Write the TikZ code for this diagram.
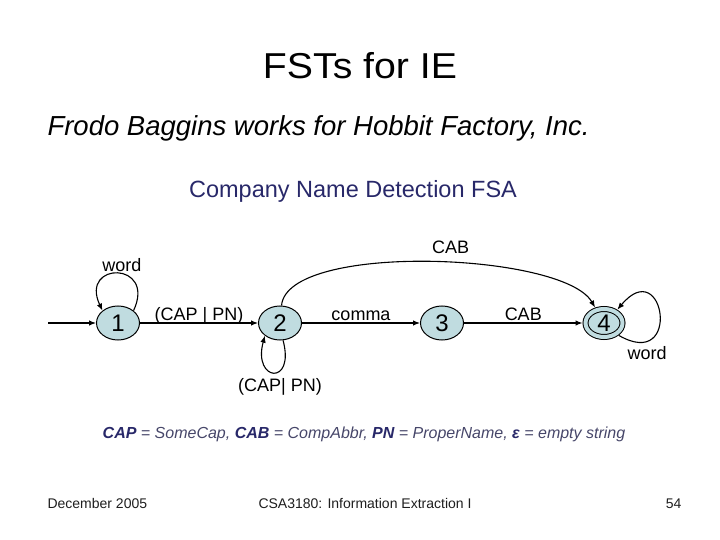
\documentclass[tikz,border=0pt]{standalone}
\usepackage{fontspec}
\setmainfont{Liberation Sans}
\usepackage{tikz}
\usetikzlibrary{shapes,arrows,arrows.meta,positioning}
\definecolor{statefill}{RGB}{192,220,224}
\definecolor{navy}{RGB}{40,40,105}
\definecolor{legendgrey}{RGB}{70,70,105}
\definecolor{footgrey}{RGB}{30,30,30}

\begin{document}
\begin{tikzpicture}[x=1pt,y=1pt,>={Latex[length=7pt,width=5.5pt]},
	state/.style={shape=ellipse,draw,line width=1pt,fill=statefill,minimum width=43pt,minimum height=34pt,inner sep=0pt,font=\fontsize{24}{24}\selectfont},
	lbl/.style={font=\fontsize{18}{18}\selectfont,inner sep=1pt},
	foot/.style={anchor=base,font=\fontsize{14}{14}\selectfont,text=footgrey}]
	\useasboundingbox (0,0) rectangle (720,-540);

	\node[anchor=base,xscale=1.09,font=\fontsize{36}{36}\selectfont] (title) at (360,-79) {FSTs for IE};
	\node[anchor=base west,font=\fontsize{27.5}{27.5}\selectfont\itshape] (sentence) at (44,-136) {Frodo Baggins works for Hobbit Factory, Inc.};
	\node[anchor=base,font=\fontsize{23.5}{23.5}\selectfont,text=navy] (fsaname) at (353,-198) {Company Name Detection FSA};

	\coordinate (start) at (48,-323);
	\node[state] (1) at (118,-323) {1};
	\node[state] (2) at (280,-323) {2};
	\node[state] (3) at (442,-323) {3};
	\node[state,minimum width=37pt,minimum height=28pt,outer sep=3pt,double=statefill,double distance=4pt] (4) at (604,-323) {4};

	\path [->,line width=1.1pt]
	(start) edge (1)
	(1) edge node[lbl,anchor=base,yshift=3pt] (l12) {(CAP | PN)} (2)
	(2) edge node[lbl,anchor=base,yshift=3pt] (l23) {comma} (3)
	(3) edge node[lbl,anchor=base,yshift=3pt] (l34) {CAB} (4)
	(2) edge[out=85,in=120,looseness=0.52] node[lbl,pos=0.55,anchor=base,yshift=9pt] (l24) {CAB} (4)
	(1.north east) edge[out=65,in=115,looseness=4.5] node[lbl,above,xshift=4pt] (l11) {word} (1.north west)
	(2.-80) edge[out=-75,in=-105,looseness=6.5] node[lbl,below,xshift=6pt,yshift=-4pt] (l22) {(CAP| PN)} (2.-140)
	(4.-40) edge[out=-30,in=50,looseness=7.3] node[lbl,pos=0.25,below,xshift=-5pt,yshift=-6pt] (l44) {word} (4.45);

	\node[anchor=base,font=\fontsize{16}{16}\selectfont\itshape,text=legendgrey] (legend) at (364,-438)
		{\textcolor{navy}{\textbf{CAP}} = SomeCap, \textcolor{navy}{\textbf{CAB}} = CompAbbr, \textcolor{navy}{\textbf{PN}} = ProperName, \textcolor{navy}{\textbf{ε}} = empty string};

	\node[foot,anchor=base west] (date) at (44,-508) {December 2005};
	\node[foot] (course) at (365,-508) {CSA3180: Information Extraction I};
	\node[foot,anchor=base east] (page) at (685,-508) {54};
\end{tikzpicture}
\end{document}
